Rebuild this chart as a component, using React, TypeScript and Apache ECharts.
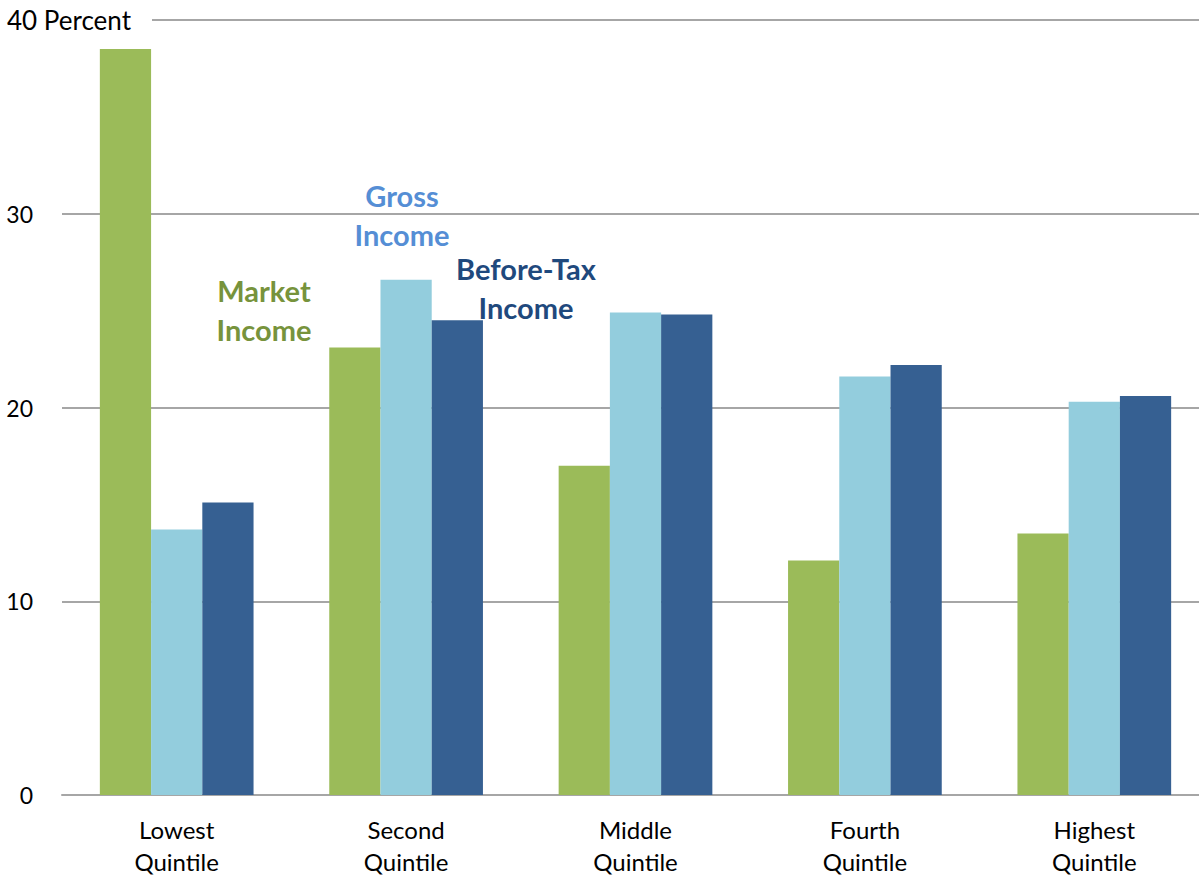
import React, { useEffect, useRef } from "react";
import * as echarts from "echarts";

const categories = ["Lowest\nQuintile", "Second\nQuintile", "Middle\nQuintile", "Fourth\nQuintile", "Highest\nQuintile"];
const marketIncome = [38.5, 23.1, 17.0, 12.1, 13.5];
const grossIncome = [13.7, 26.6, 24.9, 21.6, 20.3];
const beforeTaxIncome = [15.1, 24.5, 24.8, 22.2, 20.6];
const yTicks = [0, 10, 20, 30, 40];

const FONT = "Lato, 'Open Sans', sans-serif";

export default function App() {
  const ref = useRef<HTMLDivElement>(null);
  useEffect(() => {
    if (!ref.current) return;
    const chart = echarts.init(ref.current, undefined, { renderer: "svg" });
    chart.setOption({
      animation: false,
      textStyle: { fontFamily: FONT },
      grid: { left: 62, right: 6, top: 20, bottom: 80, containLabel: false },
      xAxis: {
        type: "category",
        data: categories,
        axisLine: { lineStyle: { color: "#A6A6A6", width: 2 } },
        axisTick: { show: false },
        axisLabel: { color: "#000", fontSize: 24, lineHeight: 32, margin: 18, fontFamily: FONT },
      },
      yAxis: {
        type: "value",
        min: yTicks[0],
        max: yTicks[yTicks.length - 1],
        interval: 10,
        axisLine: { show: false },
        axisTick: { show: false },
        splitLine: { lineStyle: { color: "#A6A6A6", width: 2 } },
        axisLabel: {
          color: "#000",
          fontSize: 23,
          margin: 29,
          fontFamily: FONT,
          formatter: (v: number) => (v === 40 ? "" : String(v)),
        },
      },
      series: [
        { name: "Market Income", type: "bar", data: marketIncome, barGap: "0%", barCategoryGap: "33%", itemStyle: { color: "#9BBB59" } },
        { name: "Gross Income", type: "bar", data: grossIncome, itemStyle: { color: "#93CDDD" } },
        { name: "Before-Tax Income", type: "bar", data: beforeTaxIncome, itemStyle: { color: "#366092" } },
      ],
      graphic: [
        { type: "rect", left: 60, top: 17, shape: { width: 92, height: 6 }, style: { fill: "#fff" }, z: 100 },
        { type: "text", x: 7, y: 20, style: { text: "40 Percent", fontSize: 26, fill: "#000", fontFamily: FONT, verticalAlign: "middle" }, z: 101 },
        {
          type: "text", x: 264, y: 310,
          style: { text: "Market\nIncome", fontSize: 29, fontWeight: "bold", fill: "#77933C", fontFamily: FONT, align: "center", verticalAlign: "middle", lineHeight: 39 },
        },
        {
          type: "text", x: 402, y: 215,
          style: { text: "Gross\nIncome", fontSize: 29, fontWeight: "bold", fill: "#558ED5", fontFamily: FONT, align: "center", verticalAlign: "middle", lineHeight: 39 },
        },
        {
          type: "text", x: 526, y: 288,
          style: { text: "Before-Tax\nIncome", fontSize: 29, fontWeight: "bold", fill: "#1F497D", fontFamily: FONT, align: "center", verticalAlign: "middle", lineHeight: 39 },
        },
      ],
    });
    return () => chart.dispose();
  }, []);
  return (
    <div style={{ position: "absolute", left: 0, top: 0, width: 1199, height: 877, overflow: "hidden", background: "#fff" }}>
      <div ref={ref} style={{ width: 1215, height: 877 }} />
    </div>
  );
}
